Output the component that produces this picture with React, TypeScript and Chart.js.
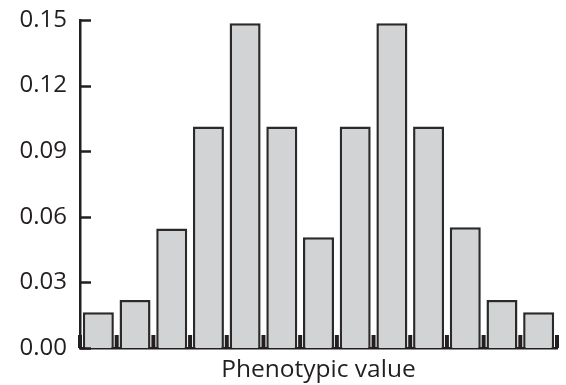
import React, { useEffect, useRef } from "react";
import { Chart, registerables } from "chart.js";

Chart.register(...registerables);

const categories: string[] = ["1", "2", "3", "4", "5", "6", "7", "8", "9", "10", "11", "12", "13"];
const frequencies: number[] = [0.0163, 0.022, 0.0547, 0.1013, 0.1485, 0.1013, 0.0506, 0.1013, 0.1485, 0.1013, 0.0552, 0.022, 0.0163];
const yTickValues: number[] = [0, 0.03, 0.06, 0.09, 0.12, 0.15];
const xTitle = "Phenotypic value";

const AXIS_COLOR = "#231f20";
const BAR_FILL = "#d1d3d4";
const BAR_BORDER = "#2b2a2a";
const FONT = "'Open Sans', 'Liberation Sans', sans-serif";

const inwardTicks = {
  id: "inwardTicks",
  afterDatasetsDraw(chart: any) {
    const { ctx, chartArea } = chart;
    const x = chart.scales.x;
    const y = chart.scales.y;
    ctx.save();
    ctx.strokeStyle = AXIS_COLOR;
    ctx.lineWidth = 2.5;
    yTickValues.forEach((v) => {
      const py = Math.round(y.getPixelForValue(v)) + 0.5;
      ctx.beginPath();
      ctx.moveTo(chartArea.left, py);
      ctx.lineTo(chartArea.left + 11, py);
      ctx.stroke();
    });
    const n = categories.length;
    const half = (x.getPixelForValue(1) - x.getPixelForValue(0)) / 2;
    ctx.fillStyle = AXIS_COLOR;
    for (let i = 0; i <= n; i++) {
      const px = x.getPixelForValue(Math.min(i, n - 1)) + (i < n ? -half : half);
      ctx.fillRect(px - 2, chartArea.bottom - 13, 4, 13);
    }
    ctx.restore();
  },
};

export default function App() {
  const canvasRef = useRef<HTMLCanvasElement | null>(null);

  useEffect(() => {
    if (!canvasRef.current) return;
    const chart = new Chart(canvasRef.current, {
      type: "bar",
      data: {
        labels: categories,
        datasets: [
          {
            data: frequencies,
            backgroundColor: BAR_FILL,
            borderColor: BAR_BORDER,
            borderWidth: 2.5,
            categoryPercentage: 1,
            barPercentage: 0.845,
          },
        ],
      },
      options: {
        animation: false,
        responsive: true,
        maintainAspectRatio: false,
        layout: { padding: { left: 0, top: 20, right: 9, bottom: 0 } },
        plugins: { legend: { display: false }, tooltip: { enabled: false } },
        scales: {
          x: {
            grid: { display: false, drawTicks: false },
            ticks: { display: false },
            border: { display: true, color: AXIS_COLOR, width: 2.5 },
            title: {
              display: true,
              text: xTitle,
              color: AXIS_COLOR,
              font: { family: FONT, size: 24.5 },
              padding: { top: 0, bottom: 0 },
            },
            afterFit: (s: any) => {
              s.height = 37;
              s.paddingLeft = 0;
              s.paddingRight = 0;
            },
          },
          y: {
            min: 0,
            max: 0.15,
            grid: { display: false, drawTicks: false },
            border: { display: true, color: AXIS_COLOR, width: 2.5 },
            afterBuildTicks: (s: any) => {
              s.ticks = yTickValues.map((v) => ({ value: v }));
            },
            ticks: {
              color: AXIS_COLOR,
              padding: 13,
              font: { family: FONT, size: 24 },
              callback: (v: any) => Number(v).toFixed(2),
            },
            afterFit: (s: any) => {
              s.width = 80;
              s.paddingTop = 0;
              s.paddingBottom = 0;
            },
          },
        },
      },
      plugins: [inwardTicks],
    });
    return () => chart.destroy();
  }, []);

  return (
    <div style={{ position: "fixed", left: 0, top: 0, width: 566, height: 385, background: "#fff" }}>
      <canvas ref={canvasRef} />
    </div>
  );
}
